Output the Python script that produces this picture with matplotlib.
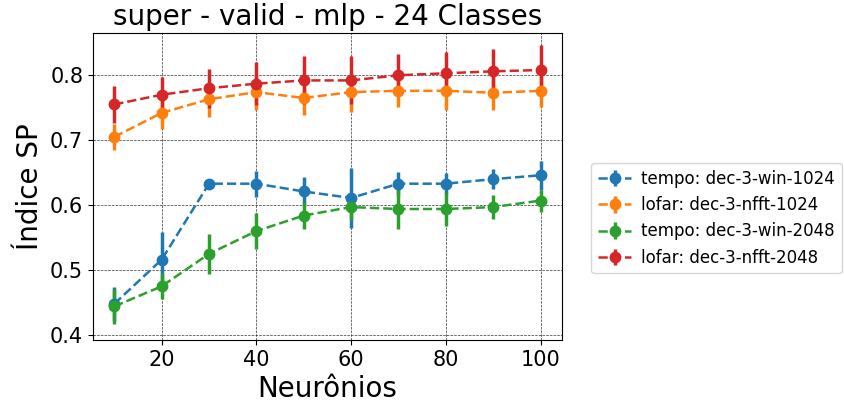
import numpy as np
import matplotlib.pyplot as plt

neurons = [10, 20, 30, 40, 50, 60, 70, 80, 90, 100]

labels = ['tempo: dec-3-win-1024', 'lofar: dec-3-nfft-1024',
          'tempo: dec-3-win-2048', 'lofar: dec-3-nfft-2048']

tempo_1024 = [0.448, 0.516, 0.633, 0.633, 0.621, 0.611, 0.633, 0.633, 0.640, 0.646]
tempo_1024_err = [0.026, 0.043, 0.005, 0.020, 0.022, 0.046, 0.018, 0.016, 0.015, 0.022]

lofar_1024 = [0.705, 0.742, 0.763, 0.774, 0.765, 0.774, 0.776, 0.776, 0.773, 0.776]
lofar_1024_err = [0.020, 0.025, 0.027, 0.027, 0.026, 0.030, 0.025, 0.030, 0.026, 0.025]

tempo_2048 = [0.444, 0.475, 0.525, 0.560, 0.584, 0.597, 0.594, 0.594, 0.597, 0.607]
tempo_2048_err = [0.027, 0.020, 0.031, 0.028, 0.021, 0.020, 0.031, 0.026, 0.018, 0.017]

lofar_2048 = [0.755, 0.770, 0.780, 0.787, 0.792, 0.792, 0.800, 0.803, 0.806, 0.808]
lofar_2048_err = [0.028, 0.028, 0.030, 0.033, 0.037, 0.037, 0.032, 0.033, 0.035, 0.038]

series = [(tempo_1024, tempo_1024_err), (lofar_1024, lofar_1024_err),
          (tempo_2048, tempo_2048_err), (lofar_2048, lofar_2048_err)]

fig = plt.figure(figsize=(8.45, 4.05), dpi=100)
ax = fig.add_axes([0.110, 0.160, 0.555, 0.7585])

for (vals, errs), lab in zip(series, labels):
    ax.errorbar(neurons, vals, yerr=errs, fmt='o--', markersize=7.5,
                linewidth=1.8, elinewidth=2.5, label=lab)

ax.set_xlim(5.5, 104.5)
ax.set_ylim(0.392, 0.865)
ax.set_yticks([0.4, 0.5, 0.6, 0.7, 0.8])
ax.set_xticks([20, 40, 60, 80, 100])
ax.tick_params(labelsize=15)
ax.grid(color='k', linestyle='--', linewidth=0.5, alpha=0.8)
ax.set_title('super - valid - mlp - 24 Classes', fontsize=20)
ax.set_xlabel('Neurônios', fontsize=20)
ax.set_ylabel('Índice SP', fontsize=20)

ax.legend(loc='center left', bbox_to_anchor=(1.045, 0.397), fontsize=12,
          handletextpad=0.6)

fig.savefig('out.png', dpi=100)
